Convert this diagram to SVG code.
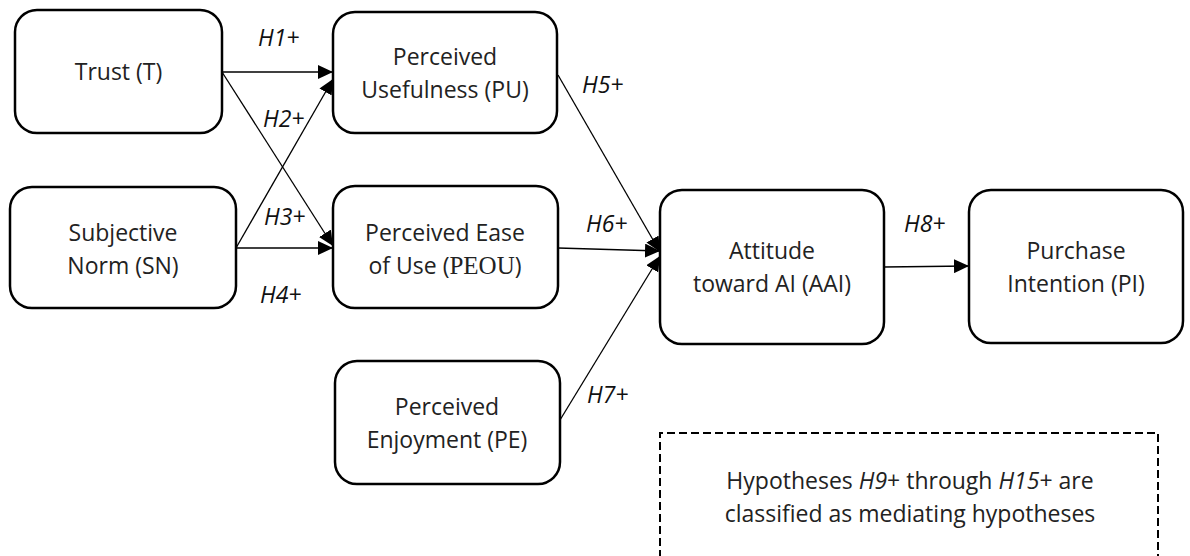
<svg xmlns="http://www.w3.org/2000/svg" width="1190" height="556" viewBox="0 0 1190 556">
<style>
.box{fill:#fff;stroke:#000;stroke-width:2.5}
.t{font-family:"Open Sans","Noto Sans",sans-serif;font-size:23px;fill:#222;text-anchor:middle}
.h{font-family:"Open Sans","Noto Sans",sans-serif;font-size:23px;font-style:italic;fill:#111}
.c{stroke:#000;stroke-width:1.3;fill:none;marker-end:url(#ah)}
.serif{font-family:"Liberation Serif",serif;font-size:25px}
</style>
<defs>
<marker id="ah" viewBox="0 0 10 10" refX="10" refY="5" markerWidth="15" markerHeight="14" markerUnits="userSpaceOnUse" orient="auto" preserveAspectRatio="none">
<path d="M0,0 L10,5 L0,10 z" fill="#000"/>
</marker>
</defs>
<rect width="1190" height="556" fill="#fff"/>
<g id="connectors">
<line class="c" x1="222" y1="72" x2="333" y2="72"/>
<line class="c" x1="222" y1="72" x2="333" y2="246"/>
<line class="c" x1="236" y1="248" x2="333" y2="79"/>
<line class="c" x1="236" y1="248" x2="333" y2="248"/>
<line class="c" x1="558" y1="75" x2="660" y2="252"/>
<line class="c" x1="558" y1="248" x2="660" y2="251"/>
<line class="c" x1="560" y1="420" x2="660" y2="256"/>
<line class="c" x1="884" y1="267" x2="969" y2="266"/>
<text class="h" x="258" y="46">H1+</text>
<text class="h" x="263" y="127">H2+</text>
<text class="h" x="264" y="225">H3+</text>
<text class="h" x="260" y="303">H4+</text>
<text class="h" x="582" y="93">H5+</text>
<text class="h" x="586" y="232">H6+</text>
<text class="h" x="587" y="403">H7+</text>
<text class="h" x="904" y="232">H8+</text>
</g>
<g id="T">
<rect class="box" x="15" y="10" width="207" height="123" rx="22"/>
<text class="t" x="118.5" y="80">Trust (T)</text>
</g>
<g id="PU">
<rect class="box" x="333" y="12" width="224" height="121" rx="22"/>
<text class="t" x="445" y="65">Perceived</text>
<text class="t" x="445" y="98">Usefulness (PU)</text>
</g>
<g id="SN">
<rect class="box" x="10" y="187" width="226" height="121" rx="22"/>
<text class="t" x="123" y="241">Subjective</text>
<text class="t" x="123" y="274">Norm (SN)</text>
</g>
<g id="PEOU">
<rect class="box" x="333" y="186" width="225" height="122" rx="22"/>
<text class="t" x="445" y="241">Perceived Ease</text>
<text class="t" x="445" y="274">of Use (<tspan class="serif">PEOU</tspan>)</text>
</g>
<g id="PE">
<rect class="box" x="335" y="361" width="225" height="123" rx="22"/>
<text class="t" x="447" y="415">Perceived</text>
<text class="t" x="447" y="448">Enjoyment (PE)</text>
</g>
<g id="AAI">
<rect class="box" x="660" y="190" width="224" height="154" rx="22"/>
<text class="t" x="772" y="259">Attitude</text>
<text class="t" x="772" y="292">toward AI (AAI)</text>
</g>
<g id="PI">
<rect class="box" x="969" y="190" width="214" height="153" rx="22"/>
<text class="t" x="1076" y="259">Purchase</text>
<text class="t" x="1076" y="292">Intention (PI)</text>
</g>
<g id="note">
<path d="M660,570 V433 H1158 V570" fill="none" stroke="#000" stroke-width="2" stroke-dasharray="8,4"/>
<text class="t" x="910" y="489">Hypotheses <tspan font-style="italic">H9</tspan>+ through <tspan font-style="italic">H15</tspan>+ are</text>
<text class="t" x="910" y="522">classified as mediating hypotheses</text>
</g>
</svg>
